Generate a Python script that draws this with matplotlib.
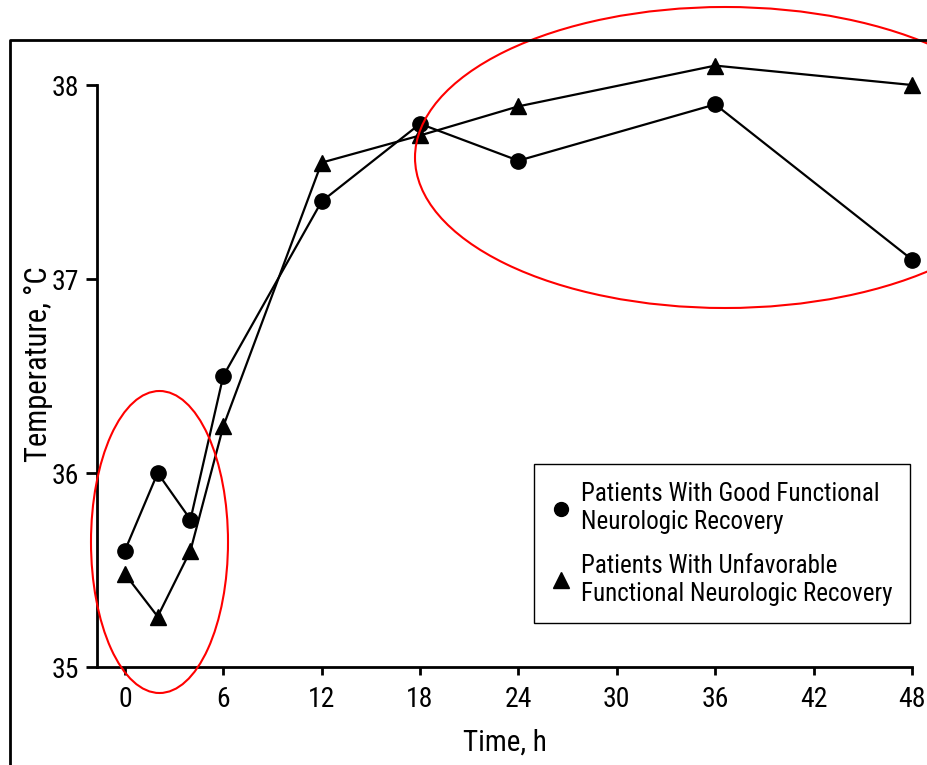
import matplotlib.pyplot as plt
from matplotlib.patches import Ellipse
from matplotlib.lines import Line2D

plt.rcParams['font.family'] = ['Roboto Condensed', 'Archivo Narrow', 'PT Sans Narrow',
                               'Liberation Sans Narrow', 'DejaVu Sans']

hours = [0, 2, 4, 6, 12, 18, 24, 36, 48]
good = [35.6, 36.0, 35.76, 36.5, 37.4, 37.8, 37.61, 37.9, 37.1]
unfav = [35.48, 35.26, 35.6, 36.24, 37.6, 37.74, 37.89, 38.1, 38.0]
xticks = [0, 6, 12, 18, 24, 30, 36, 42, 48]
yticks = [35, 36, 37, 38]

W, H = 927, 765
fig = plt.figure(figsize=(9.27, 7.65), dpi=100)
ax = fig.add_axes([97 / W, 1 - 667 / H, (912 - 97) / W, (667 - 85) / H])

ax.plot(hours, good, 'k-', marker='o', markersize=11, linewidth=1.6, clip_on=False, zorder=3)
ax.plot(hours, unfav, 'k-', marker='^', markersize=12, linewidth=1.6, clip_on=False, zorder=3)

ax.set_xlim(-1.7, 48)
ax.set_ylim(35, 38)
ax.set_xticks(xticks)
ax.set_yticks(yticks)
ax.tick_params(axis='both', labelsize=20, width=2, direction='out')
ax.tick_params(axis='x', length=6, pad=8)
ax.tick_params(axis='y', length=8, pad=5)
for s in ['top', 'right']:
    ax.spines[s].set_visible(False)
for s in ['left', 'bottom']:
    ax.spines[s].set_linewidth(2)

ax.set_xlabel('Time, h', fontsize=21, labelpad=11)
ax.set_ylabel('Temperature, °C', fontsize=22)
ax.yaxis.set_label_coords(-0.054, 0.52)

handles = [Line2D([], [], color='k', marker='o', linestyle='none', markersize=10),
           Line2D([], [], color='k', marker='^', linestyle='none', markersize=11)]
labels = ['Patients With Good Functional\nNeurologic Recovery',
          'Patients With Unfavorable\nFunctional Neurologic Recovery']
leg = ax.legend(handles, labels, loc='lower right', bbox_to_anchor=(910 / W, 1 - 623 / H),
                bbox_transform=fig.transFigure, fontsize=18, fancybox=False,
                framealpha=1, edgecolor='k', handlelength=0.8, handletextpad=0.4,
                labelspacing=0.8, borderpad=0.7, borderaxespad=0)
leg.get_frame().set_linewidth(1)

# outer frame
fig.add_artist(Line2D([10 / W, 10 / W, 1], [0, 1 - 40 / H, 1 - 40 / H],
                      transform=fig.transFigure, color='k', linewidth=2))

# red highlight ellipses
fig.add_artist(Ellipse((159.5 / W, 1 - 542 / H), 137 / W, 302 / H,
                       transform=fig.transFigure, fill=False, edgecolor='red', linewidth=1.5))
fig.add_artist(Ellipse((725 / W, 1 - 157.5 / H), 620 / W, 301 / H,
                       transform=fig.transFigure, fill=False, edgecolor='red', linewidth=1.5))

fig.savefig('out.png', dpi=100)
